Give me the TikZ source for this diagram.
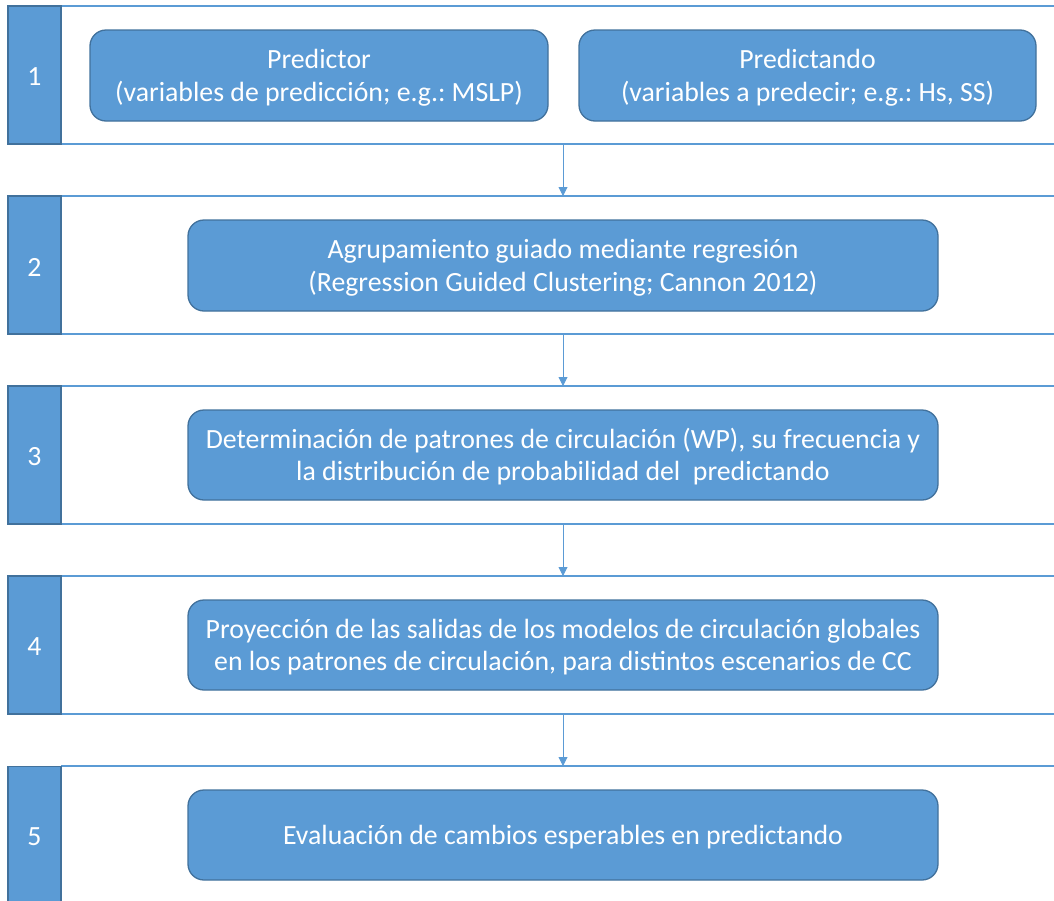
\documentclass[tikz,border=0pt]{standalone}
\usepackage{fontspec}
\setmainfont{Carlito}
\frenchspacing
\usetikzlibrary{arrows.meta}
\definecolor{fillb}{HTML}{5B9BD5}
\definecolor{edgeb}{HTML}{41719C}
\newcommand{\downby}[2]{\raisebox{0pt}[\dimexpr\height+#1\relax][\depth]{#2}}
\newcommand{\twol}[2]{\downby{6pt}{\begin{tabular}{@{}c@{}}#1\\#2\end{tabular}}}
\tikzset{
  bandline/.style={draw=fillb, line width=1.3pt},
  numbox/.style={draw=edgeb, fill=fillb, line width=1.3pt, text=white, font=\fontsize{27.8}{32}\selectfont, inner sep=0pt},
  stepbox/.style={draw=edgeb, fill=fillb, line width=1.3pt, rounded corners=16pt, text=white, font=\fontsize{27.8}{32.5}\selectfont, inner sep=0pt},
  flow/.style={draw=fillb, line width=0.9pt, -{Triangle[width=9pt,length=9pt]}}
}
\begin{document}
\begin{tikzpicture}[x=1pt,y=-1pt]
\useasboundingbox (0,0) rectangle (1054,900);
% bands
\foreach \t/\n in {6/1,196/2,386/3,576/4,766/5}{
  \pgfmathsetmacro{\b}{\t+138}
  \draw[bandline] (61,\t) -- (1060,\t);
  \draw[bandline] (61,\b) -- (1060,\b);
}
\node[numbox, minimum width=53pt, minimum height=138pt] (n1) at (34.5,75) {\downby{4pt}{1}};
\node[numbox, minimum width=53pt, minimum height=138pt] (n2) at (34.5,265) {\downby{4pt}{2}};
\node[numbox, minimum width=53pt, minimum height=138pt] (n3) at (34.5,455) {\downby{4pt}{3}};
\node[numbox, minimum width=53pt, minimum height=138pt] (n4) at (34.5,645) {\downby{4pt}{4}};
\node[numbox, minimum width=53pt, minimum height=150pt, anchor=north] (n5) at (34.5,766) {};
\node[text=white, font=\fontsize{27.8}{32}\selectfont] (t5) at (34.5,837) {5};
% boxes
\node[stepbox, minimum width=458pt, minimum height=91pt] (a) at (319,75.5) {\twol{Predictor}{(variables de predicción; e.g.: MSLP)}};
\node[stepbox, minimum width=457pt, minimum height=91pt] (b) at (807.5,75.5) {\twol{Predictando}{(variables a predecir; e.g.: Hs, SS)}};
\node[stepbox, minimum width=750pt, minimum height=91pt] (c) at (563,265.5) {\twol{Agrupamiento guiado mediante regresión}{(Regression Guided Clustering; Cannon 2012)}};
\node[stepbox, minimum width=750pt, minimum height=90pt] (d) at (563,455) {\twol{Determinación de patrones de circulación (WP), su frecuencia y}{la distribución de probabilidad del \ predictando}};
\node[stepbox, minimum width=750pt, minimum height=90pt] (e) at (563,645) {\twol{Proyección de las salidas de los modelos de circulación globales}{en los patrones de circulación, para distintos escenarios de CC}};
\node[stepbox, minimum width=750pt, minimum height=90pt] (f) at (563,835) {\downby{4pt}{Evaluación de cambios esperables en predictando}};
% arrows
\coordinate (s1) at (563,144); \coordinate (e1) at (563,196);
\coordinate (s2) at (563,334); \coordinate (e2) at (563,386);
\coordinate (s3) at (563,524); \coordinate (e3) at (563,576);
\coordinate (s4) at (563,714); \coordinate (e4) at (563,766);
\draw[flow] (s1) -- (e1);
\draw[flow] (s2) -- (e2);
\draw[flow] (s3) -- (e3);
\draw[flow] (s4) -- (e4);
\end{tikzpicture}
\end{document}
